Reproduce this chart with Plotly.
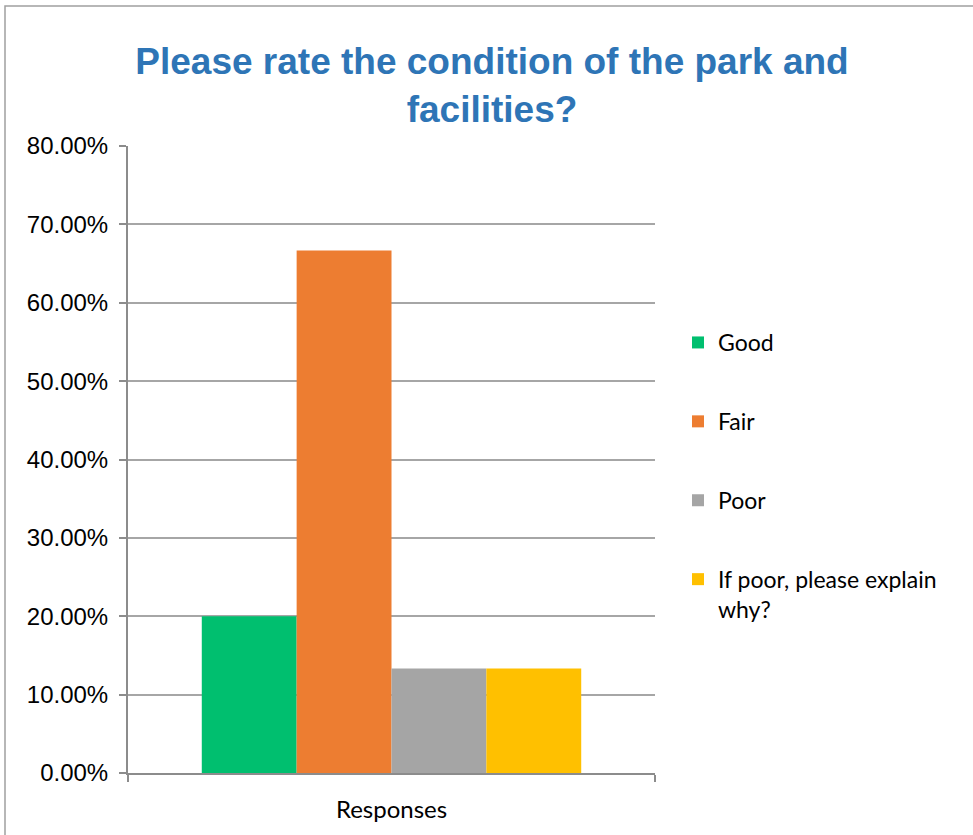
import plotly.graph_objects as go

categories = ["Responses"]
series_names = ["Good", "Fair", "Poor", "If poor, please explain<br>why?"]
series_values = [0.20, 0.6667, 0.1333, 0.1333]
series_colors = ["#00bf6f", "#ed7d31", "#a5a5a5", "#ffc000"]
y_ticks = [0, 0.1, 0.2, 0.3, 0.4, 0.5, 0.6, 0.7, 0.8]

fig = go.Figure()
for i, (name, val, col) in enumerate(zip(series_names, series_values, series_colors)):
    fig.add_trace(go.Bar(x=categories, y=[val], name=name, marker_color=col,
                         marker_line_width=0, legendgroup=f"g{i}"))

W, H = 973, 835
L, R, T, B = 128, 318, 146, 62
pw, ph = W - L - R, H - T - B

fig.update_layout(
    width=W, height=H,
    margin=dict(l=L, r=R, t=T, b=B),
    paper_bgcolor="white", plot_bgcolor="white",
    barmode="group", bargap=0.28, bargroupgap=0,
    title=dict(text="<b>Please rate the condition of the park and<br>facilities?</b>",
               x=492 / W, xanchor="center", y=1 - 74 / H, yanchor="middle",
               font=dict(family="Liberation Sans, Arial", size=37, color="#2e75b6")),
    font=dict(family="Liberation Sans, Arial", color="#000000"),
    legend=dict(x=(678 - L) / pw, xanchor="left", y=(H - B - 321) / ph, yanchor="top",
                font=dict(family="Lato, Open Sans", size=23, color="#000000"),
                tracegroupgap=46, valign="top", itemwidth=30, bgcolor="rgba(0,0,0,0)"),
    showlegend=True,
    xaxis=dict(showline=True, linecolor="#8c8c8c", linewidth=2, ticks="outside",
               tickson="boundaries", ticklen=7, tickcolor="#8c8c8c", tickwidth=2,
               tickfont=dict(family="Lato, Open Sans", size=24, color="#000000"),
               ticklabelstandoff=14, showgrid=False, fixedrange=True),
    yaxis=dict(range=[0, 0.8], tickvals=y_ticks, tickformat=".2%", showline=True,
               linecolor="#8c8c8c", linewidth=2, ticks="outside", ticklen=7,
               tickcolor="#8c8c8c", tickwidth=2, showgrid=True, gridcolor="#a6a6a6",
               gridwidth=1.5, zeroline=False,
               tickfont=dict(family="Liberation Sans, Arial", size=24, color="#000000"),
               ticklabelstandoff=6),
)

# outer chart border
fig.add_shape(type="rect", xref="paper", yref="paper",
              x0=(5 - L) / pw, x1=(1000 - L) / pw,
              y0=(H - B - 860) / ph, y1=(H - B - 6) / ph,
              line=dict(color="#a0a0a0", width=1.5), fillcolor="rgba(0,0,0,0)", layer="below")

fig.write_html("out.html", config={"displayModeBar": False},
               post_script="document.body.style.margin='0';")
